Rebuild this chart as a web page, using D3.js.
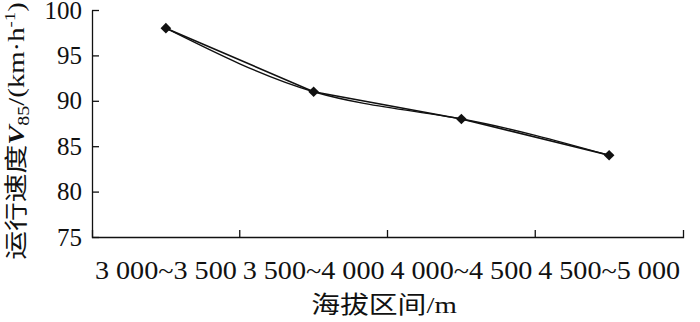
<!DOCTYPE html>
<html>
<head>
<meta charset="utf-8">
<script src="https://cdn.jsdelivr.net/npm/d3@7"></script>
<style>
  body { margin: 0; background: #fff; }
  text { font-family: "Liberation Serif", "Noto Sans CJK SC", serif; fill: #111; }
</style>
</head>
<body>
<svg id="chart" width="700" height="322"></svg>
<script>
// altitude ranges and operating speed V85
var categories = ["3 000~3 500", "3 500~4 000", "4 000~4 500", "4 500~5 000"];
var speeds = [98, 91, 88, 84];
var yTicks = [75, 80, 85, 90, 95, 100];

var svg = d3.select("#chart");

var margin = {top: 10, left: 92, right: 17, bottom: 85};
var width = 700 - margin.left - margin.right;
var height = 322 - margin.top - margin.bottom;

var g = svg.append("g")
    .attr("transform", `translate(${margin.left},${margin.top})`);

var xScale = d3.scaleBand()
    .domain(categories)
    .range([0, width]);

var yScale = d3.scaleLinear()
    .domain([75, 100])
    .range([height, 0]);

var xPos = function(i) { return xScale(categories[i]) + xScale.bandwidth() / 2; };

// x axis, ticks pointing up between the categories
var xAxis = g.append("g")
    .attr("transform", `translate(0,${height})`)
    .call(d3.axisBottom(xScale).tickSizeInner(-7).tickSizeOuter(-7));
xAxis.selectAll(".tick line")
    .attr("transform", `translate(${xScale.bandwidth() / 2},0)`);
xAxis.selectAll(".tick:last-of-type line").remove();
xAxis.selectAll("text")
    .attr("y", 42)
    .attr("dy", null)
    .attr("textLength", 142)
    .attr("lengthAdjust", "spacingAndGlyphs")
    .style("font-size", "25px");

// y axis, ticks pointing right
var yAxis = g.append("g")
    .call(d3.axisLeft(yScale).tickValues(yTicks).tickSizeInner(-7).tickSizeOuter(0).tickPadding(10));
yAxis.selectAll("text")
    .style("font-size", "25px");

g.selectAll(".domain, .tick line")
    .attr("stroke", "#111")
    .attr("stroke-width", 1.3);

// straight line
var line = d3.line()
    .x(function(d, i) { return xPos(i); })
    .y(function(d) { return yScale(d); });

g.append("path")
    .datum(speeds)
    .attr("d", line)
    .attr("fill", "none")
    .attr("stroke", "#111")
    .attr("stroke-width", 1.6);

// smoothed line
g.append("path")
    .datum(speeds)
    .attr("d", line.curve(d3.curveNatural))
    .attr("fill", "none")
    .attr("stroke", "#111")
    .attr("stroke-width", 1.4);

// diamond markers
g.selectAll(".marker")
    .data(speeds)
    .enter()
    .append("path")
    .attr("class", "marker")
    .attr("d", d3.symbol().type(d3.symbolDiamond2).size(72))
    .attr("transform", function(d, i) { return `translate(${xPos(i)},${yScale(d)})`; })
    .attr("fill", "#111");

// axis titles
svg.append("text")
    .attr("text-anchor", "middle")
    .attr("transform", "translate(384,313) scale(1.2,1)")
    .style("font-size", "24px")
    .text("海拔区间/m");

var ylab = svg.append("text")
    .attr("text-anchor", "middle")
    .attr("transform", "translate(24,131) rotate(-90) scale(1.25,1)")
    .style("font-size", "23px");
ylab.append("tspan").text("运行速度");
ylab.append("tspan").text("V").style("font-weight", "bold").style("font-style", "italic");
ylab.append("tspan").text("85").attr("dy", 5).style("font-size", "16px");
ylab.append("tspan").text("/(km·h").attr("dy", -5);
ylab.append("tspan").text("-1").attr("dy", -9).style("font-size", "15px");
ylab.append("tspan").text(")").attr("dy", 9);
</script>
</body>
</html>
